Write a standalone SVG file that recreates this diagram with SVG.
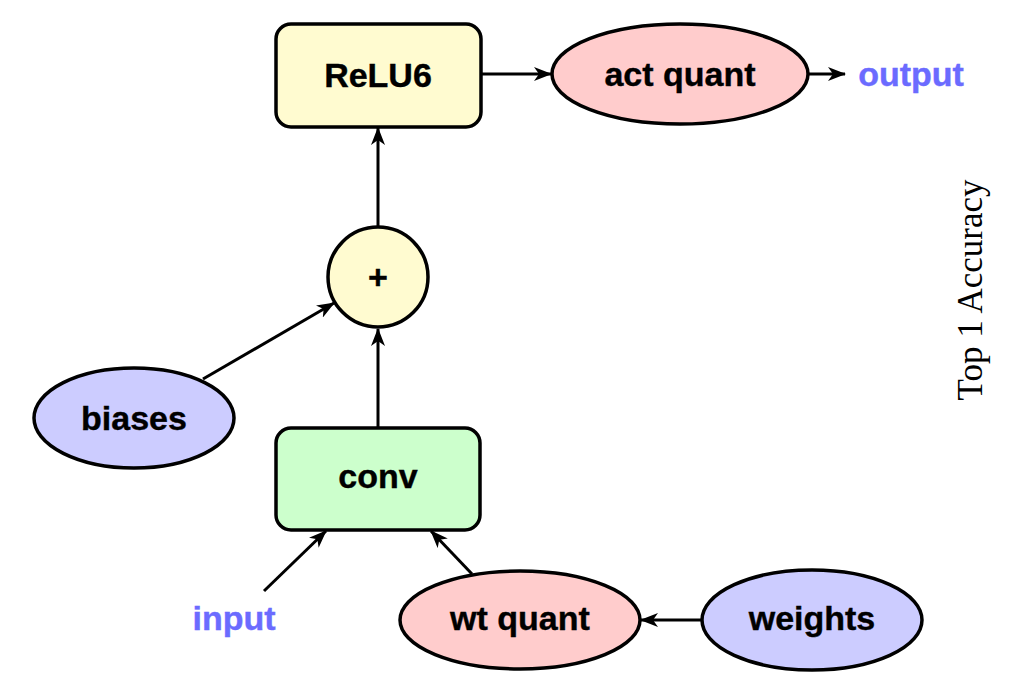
<svg xmlns="http://www.w3.org/2000/svg" width="1010" height="686" viewBox="0 0 1010 686">
<defs>
<style>
.n{stroke:#000;stroke-width:3.5}
.t{font-family:"Liberation Sans",Arial,sans-serif;font-weight:bold;font-size:34px;text-anchor:middle;fill:#000;stroke:#000;stroke-width:0.4}
.b{fill:#6b6bff;stroke:#6b6bff}
.e{stroke:#000;stroke-width:3;fill:none;marker-end:url(#ah)}
</style>
<marker id="ah" viewBox="0 0 18 14" refX="17" refY="7" markerWidth="18" markerHeight="14" markerUnits="userSpaceOnUse" orient="auto">
<path d="M0,0 L18,7 L0,14 L5,7 Z" fill="#000"/>
</marker>
</defs>
<rect width="1010" height="686" fill="#fff"/>
<g id="connectors">
<line class="e" x1="481" y1="74" x2="551" y2="74"/>
<line class="e" x1="808" y1="74" x2="845" y2="74"/>
<line class="e" x1="378" y1="227" x2="378" y2="128"/>
<line class="e" x1="378" y1="428" x2="378" y2="329"/>
<line class="e" x1="203" y1="379" x2="334" y2="303"/>
<line class="e" x1="264" y1="591" x2="326" y2="531"/>
<line class="e" x1="472" y1="574" x2="431" y2="531"/>
<line class="e" x1="702" y1="620" x2="641" y2="620"/>
</g>
<g id="relu6">
<rect class="n" x="276" y="24" width="205" height="103" rx="15" fill="#fffbd0"/>
<text class="t" x="378" y="87">ReLU6</text>
</g>
<g id="actquant">
<ellipse class="n" cx="680" cy="74" rx="128" ry="50" fill="#ffcccc"/>
<text class="t" x="680" y="86">act quant</text>
</g>
<g id="output">
<text class="t b" x="911" y="86">output</text>
</g>
<g id="plus">
<circle class="n" cx="378" cy="277" r="50" fill="#fffbd0"/>
<text class="t" x="378" y="289">+</text>
</g>
<g id="biases">
<ellipse class="n" cx="134" cy="418" rx="100" ry="50" fill="#ccccff"/>
<text class="t" x="134" y="430">biases</text>
</g>
<g id="conv">
<rect class="n" x="276" y="428" width="204" height="102" rx="15" fill="#ccffcc"/>
<text class="t" x="378" y="488">conv</text>
</g>
<g id="input">
<text class="t b" x="234" y="630">input</text>
</g>
<g id="wtquant">
<ellipse class="n" cx="520" cy="620" rx="120" ry="49" fill="#ffcccc"/>
<text class="t" x="520" y="630">wt quant</text>
</g>
<g id="weights">
<ellipse class="n" cx="812" cy="620" rx="110" ry="50" fill="#ccccff"/>
<text class="t" x="812" y="630">weights</text>
</g>
<g id="axislabel">
<text x="0" y="0" transform="translate(982,290) rotate(-90)" font-family="'Liberation Serif','Times New Roman',serif" font-size="35" text-anchor="middle" fill="#000">Top 1 Accuracy</text>
</g>
</svg>
